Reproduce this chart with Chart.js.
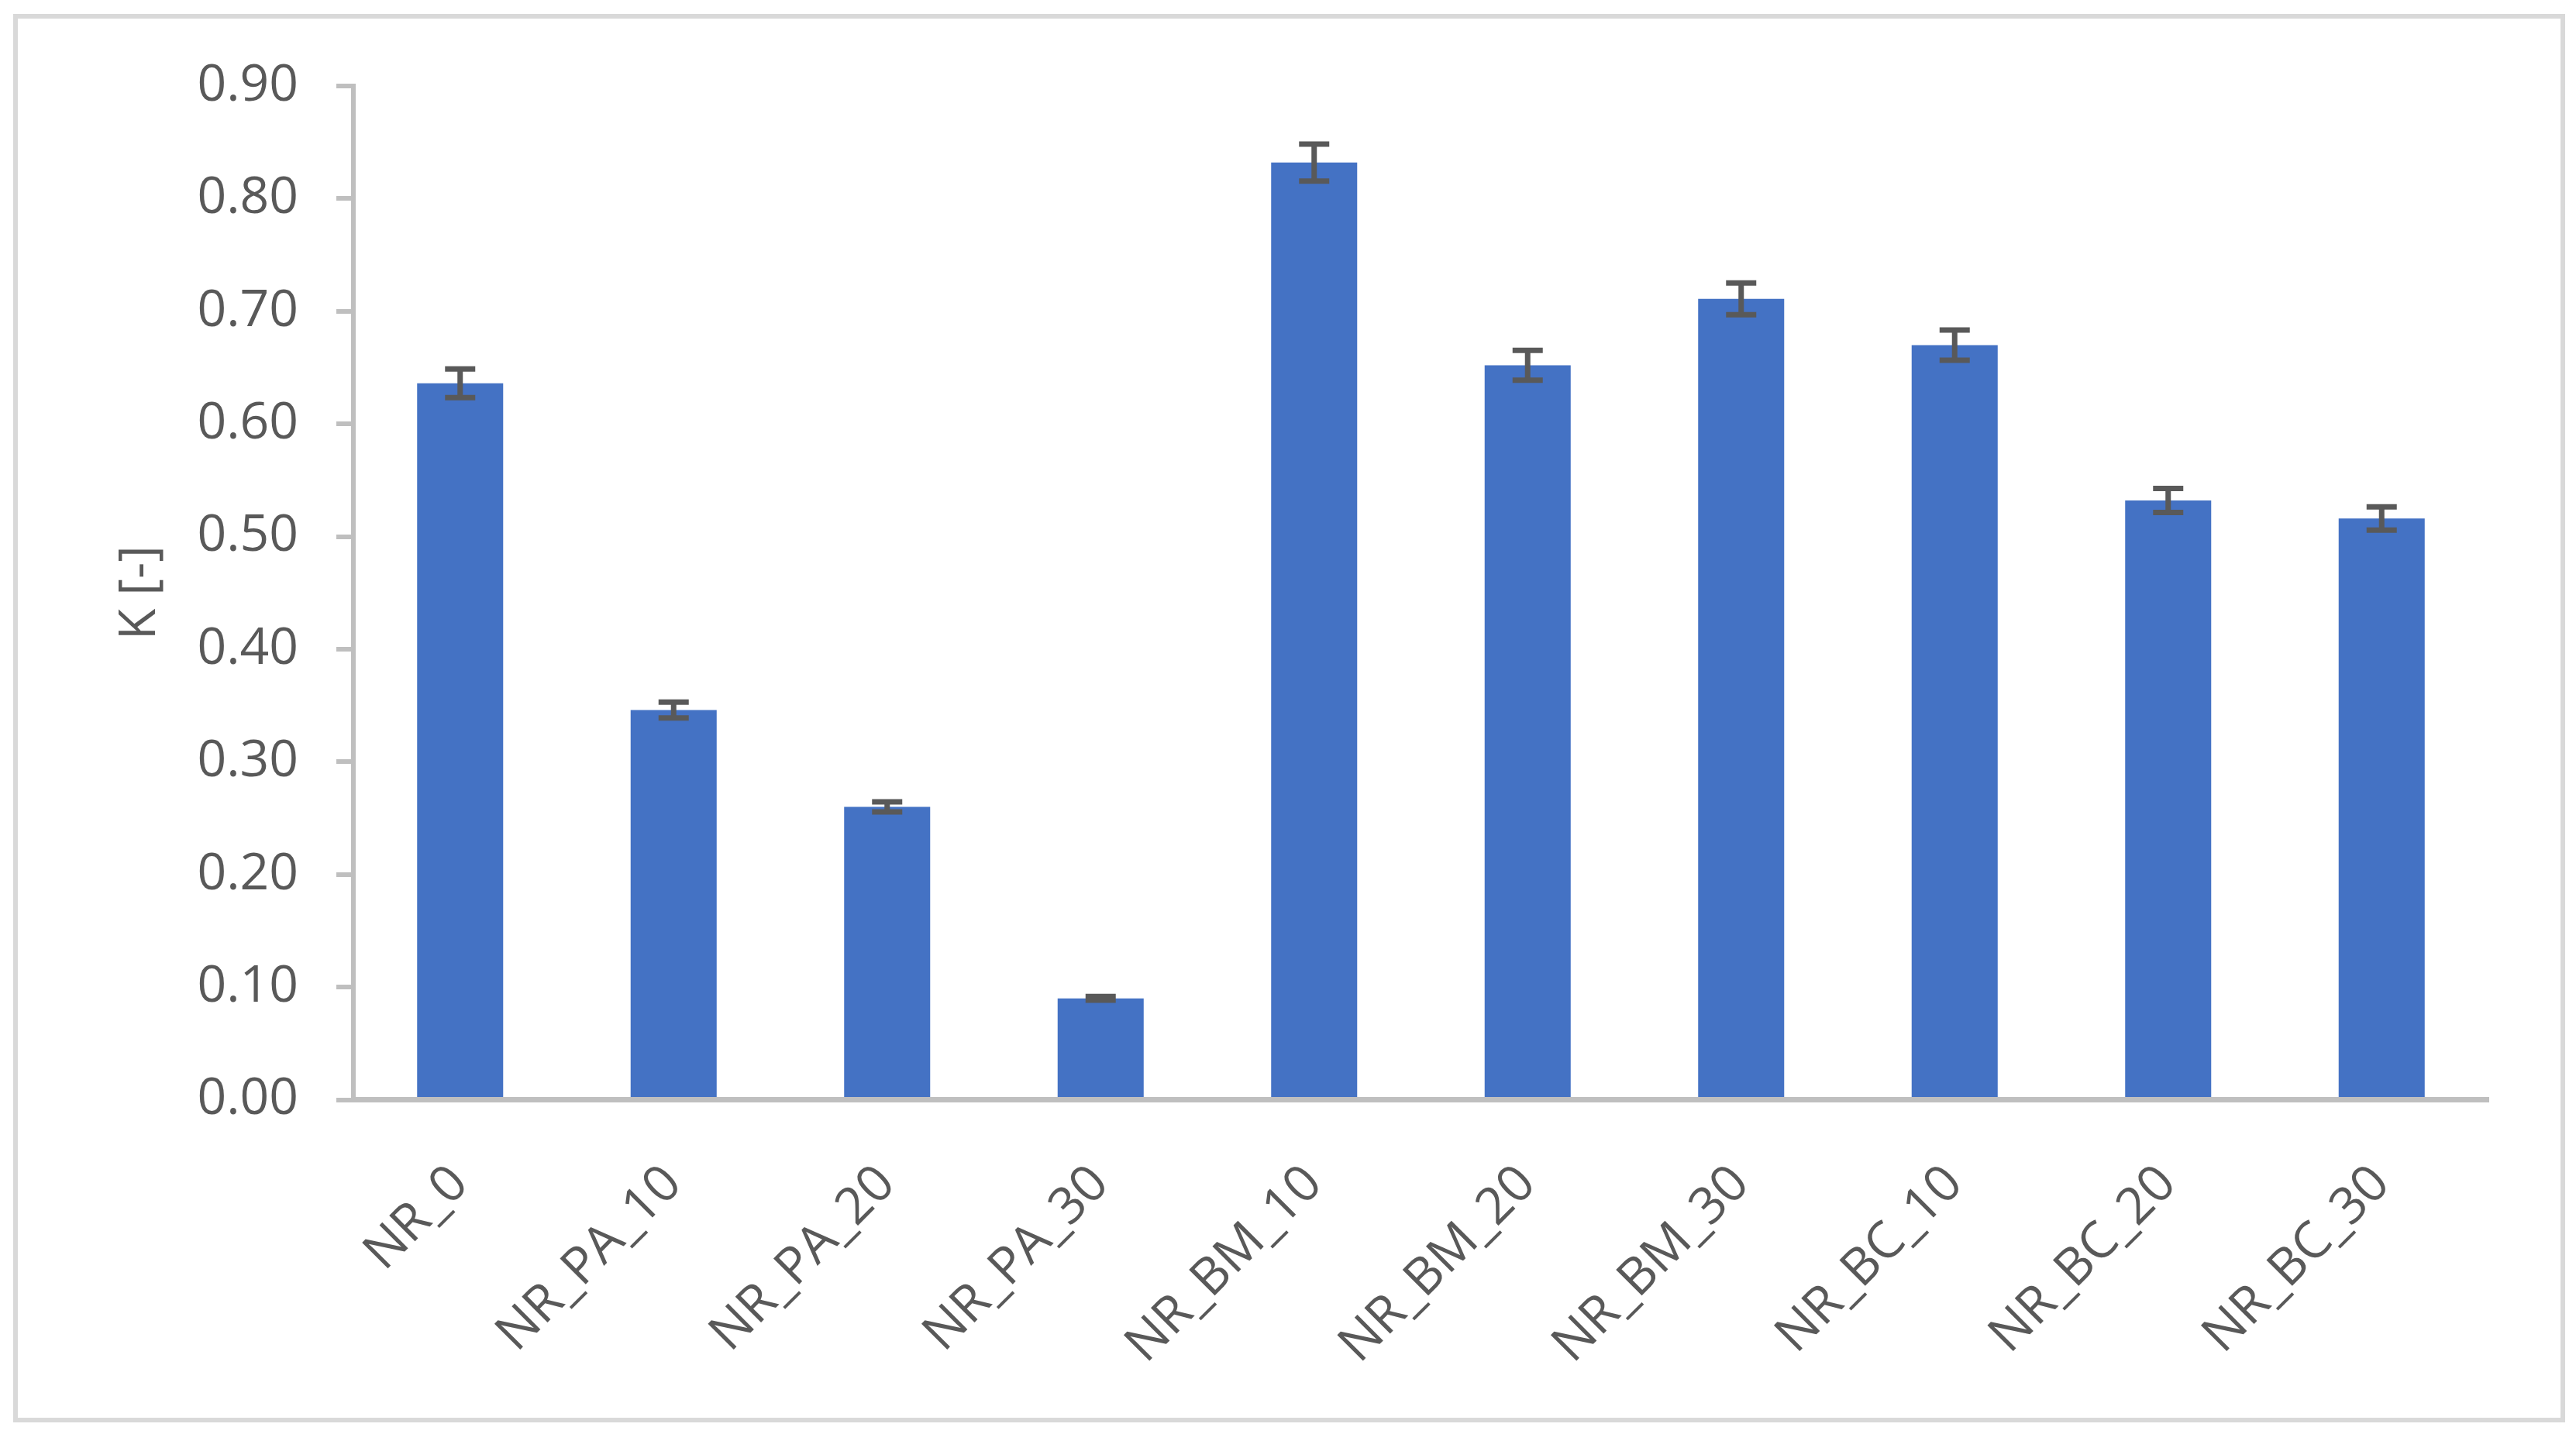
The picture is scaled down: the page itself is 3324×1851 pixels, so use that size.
<!DOCTYPE html>
<html>
<head>
<meta charset="utf-8">
<script src="https://cdn.jsdelivr.net/npm/chart.js@4.4.1/dist/chart.umd.min.js"></script>
<style>
  html, body { margin: 0; padding: 0; background: #ffffff; }
  #wrap { width: 3324px; height: 1851px; position: relative; }
</style>
</head>
<body>
<div id="wrap"><canvas id="c" width="3324" height="1851"></canvas></div>
<script>
const categories = ["NR_0", "NR_PA_10", "NR_PA_20", "NR_PA_30", "NR_BM_10", "NR_BM_20", "NR_BM_30", "NR_BC_10", "NR_BC_20", "NR_BC_30"];
const kValues = [0.636, 0.346, 0.260, 0.090, 0.832, 0.652, 0.711, 0.670, 0.532, 0.516];
const kErrors = [0.0127, 0.0070, 0.0045, 0.0017, 0.0164, 0.0132, 0.0141, 0.0134, 0.0107, 0.0103];
const yTicks = [0.00, 0.10, 0.20, 0.30, 0.40, 0.50, 0.60, 0.70, 0.80, 0.90];
const yAxisTitle = "K [-]";

const FONT = "'Open Sans', 'Liberation Sans', sans-serif";
const TEXT = "#595959";
const AXIS = "#bfbfbf";

const frame = {
  id: 'frame',
  beforeDraw(chart) {
    const ctx = chart.ctx;
    ctx.save();
    ctx.fillStyle = '#ffffff';
    ctx.fillRect(0, 0, chart.width, chart.height);
    ctx.strokeStyle = '#d9d9d9';
    ctx.lineWidth = 6;
    ctx.strokeRect(20, 21, 3287, 1812);
    ctx.restore();
  }
};

const errorBars = {
  id: 'errorBars',
  afterDatasetsDraw(chart) {
    const ctx = chart.ctx;
    const ys = chart.scales.y;
    const meta = chart.getDatasetMeta(0);
    ctx.save();
    ctx.strokeStyle = '#595959';
    ctx.lineWidth = 7;
    ctx.lineCap = 'butt';
    meta.data.forEach((bar, i) => {
      const v = kValues[i], e = kErrors[i];
      const yt = ys.getPixelForValue(v + e);
      const yb = ys.getPixelForValue(v - e);
      const x = bar.x;
      const half = 19.5;
      ctx.beginPath();
      ctx.moveTo(x, yt); ctx.lineTo(x, yb);
      ctx.moveTo(x - half, yt); ctx.lineTo(x + half, yt);
      ctx.moveTo(x - half, yb); ctx.lineTo(x + half, yb);
      ctx.stroke();
    });
    ctx.restore();
  }
};

new Chart(document.getElementById('c'), {
  type: 'bar',
  data: {
    labels: categories,
    datasets: [{
      data: kValues,
      backgroundColor: '#4472c4',
      borderWidth: 0,
      categoryPercentage: 1.0,
      barPercentage: 0.403
    }]
  },
  options: {
    responsive: false,
    animation: false,
    devicePixelRatio: 1,
    layout: { padding: { left: 0, right: 113, top: 111, bottom: 0 } },
    plugins: { legend: { display: false }, tooltip: { enabled: false }, title: { display: false } },
    scales: {
      x: {
        grid: { display: false, drawTicks: false },
        border: { display: true, color: AXIS, width: 7, z: 1 },
        ticks: {
          autoSkip: false, maxRotation: 45, minRotation: 45,
          color: TEXT, padding: 70,
          font: { family: FONT, size: 66 }
        },
        afterFit(scale) { scale.height = 1851 - 1419.5; }
      },
      y: {
        min: 0, max: 0.9,
        afterBuildTicks(scale) { scale.ticks = yTicks.map(v => ({ value: v })); },
        grid: { drawOnChartArea: false, drawTicks: true, tickLength: 22, color: AXIS, lineWidth: 6 },
        border: { display: true, color: AXIS, width: 6, z: 1 },
        ticks: {
          color: TEXT, padding: 49,
          font: { family: FONT, size: 66 },
          callback: (v) => Number(v).toFixed(2)
        },
        title: {
          display: true, text: yAxisTitle, color: TEXT,
          font: { family: FONT, size: 66 },
          padding: { top: 142, bottom: 0 }
        },
        afterFit(scale) { scale.width = 456; }
      }
    }
  },
  plugins: [frame, errorBars]
});
</script>
</body>
</html>
